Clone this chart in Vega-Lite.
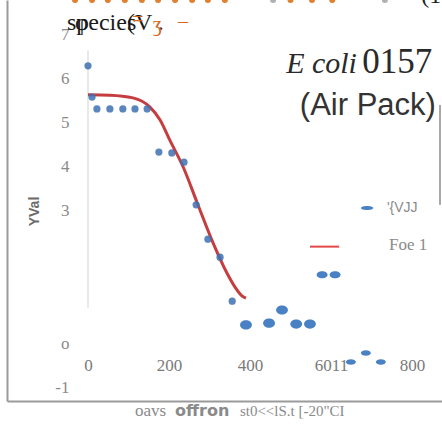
{
  "$schema": "https://vega.github.io/schema/vega-lite/v6.json",
  "width": 435,
  "height": 401,
  "autosize": "none",
  "padding": {"left": 7, "top": 0, "right": 0, "bottom": 26},
  "background": "white",
  "config": {"view": {"stroke": null}},
  "datasets": {
    "curve": [
      {"x": 0, "y": 5.64}, {"x": 54, "y": 5.63}, {"x": 111, "y": 5.57}, {"x": 153, "y": 5.36},
      {"x": 178, "y": 5.07}, {"x": 202, "y": 4.61}, {"x": 235, "y": 4.0}, {"x": 269, "y": 3.2},
      {"x": 309, "y": 2.27}, {"x": 343, "y": 1.59}, {"x": 363, "y": 1.27}, {"x": 380, "y": 1.07},
      {"x": 390, "y": 1.02}
    ],
    "obs": [
      {"x": 0, "y": 6.3}, {"x": 10, "y": 5.59}, {"x": 22, "y": 5.32}, {"x": 54, "y": 5.32},
      {"x": 86, "y": 5.32}, {"x": 116, "y": 5.32}, {"x": 146, "y": 5.32}, {"x": 175, "y": 4.34},
      {"x": 207, "y": 4.32}, {"x": 237, "y": 4.11}, {"x": 267, "y": 3.14}, {"x": 296, "y": 2.36},
      {"x": 326, "y": 1.95}, {"x": 356, "y": 0.95}
    ],
    "extra": [
      {"x": 390, "y": 0.41, "grp": "mid"}, {"x": 447, "y": 0.45, "grp": "mid"}, {"x": 479, "y": 0.75, "grp": "mid"},
      {"x": 514, "y": 0.43, "grp": "mid"}, {"x": 548, "y": 0.43, "grp": "mid"},
      {"x": 649, "y": -0.43, "grp": "low"}, {"x": 686, "y": -0.23, "grp": "low"}, {"x": 723, "y": -0.43, "grp": "low"}
    ],
    "topdots": [
      {"x": -32, "c": "o"}, {"x": 10, "c": "o"}, {"x": 49, "c": "o"}, {"x": 91, "c": "o"}, {"x": 133, "c": "o"},
      {"x": 173, "c": "o"}, {"x": 215, "c": "o"}, {"x": 257, "c": "o"}, {"x": 296, "c": "o"}, {"x": 338, "c": "o"},
      {"x": 457, "c": "g"}, {"x": 500, "c": "o"}, {"x": 553, "c": "o"}, {"x": 603, "c": "o"}, {"x": 733, "c": "g"}
    ]
  },
  "encoding": {
    "x": {
      "field": "x", "type": "quantitative",
      "scale": {"domain": [-200, 874], "nice": false, "zero": false},
      "axis": {
        "values": [0, 200, 400, 600, 800],
        "labelExpr": "datum.value == 600 ? '6011' : datum.label",
        "grid": false, "ticks": false,
        "domainColor": "#9a9a9a", "domainWidth": 2,
        "labelFont": "Liberation Serif", "labelFontSize": 17, "labelColor": "#7a7a7a",
        "labelPadding": -36, "labelBaseline": "middle", "labelFlush": false, "labelOverlap": false,
        "title": null
      }
    },
    "y": {
      "field": "y", "type": "quantitative",
      "scale": {"domain": [-1.318, 7.795], "nice": false, "zero": false},
      "axis": {
        "values": [7, 6, 5, 4, 3, 0, -1],
        "labelExpr": "datum.value == 0 ? 'o' : (datum.value == -1 ? '-1' : datum.label)",
        "grid": false, "ticks": false,
        "domainColor": "#9a9a9a", "domainWidth": 2,
        "labelFont": "Liberation Serif", "labelFontSize": 17, "labelColor": "#8a8a8a",
        "labelPadding": -62, "labelFlush": false, "labelOverlap": false,
        "title": "YVal",
        "titleFont": "Liberation Sans", "titleFontSize": 14, "titleFontWeight": "bold", "titleColor": "#6a6a6a",
        "titleAngle": 270, "titleX": 27, "titleY": 211, "titleAlign": "center", "titleBaseline": "middle"
      }
    }
  },
  "layer": [
    {
      "data": {"values": [{"x": 0, "y": 6.65, "y2": 0.8}]},
      "mark": {"type": "rule", "color": "#e2e2e2", "strokeWidth": 1.5},
      "encoding": {"y2": {"field": "y2"}}
    },
    {
      "data": {"name": "curve"},
      "mark": {"type": "line", "color": "#c63d3f", "strokeWidth": 3, "interpolate": "monotone"}
    },
    {
      "data": {"name": "obs"},
      "mark": {"type": "point", "filled": true, "shape": "circle", "size": 52, "color": "#3e70b2", "opacity": 0.85}
    },
    {
      "data": {"name": "extra"},
      "transform": [{"filter": "datum.grp == 'mid'"}],
      "mark": {"type": "point", "filled": true, "size": 140, "color": "#4a80c4", "opacity": 1,
               "shape": "M-1,0A1,0.78,0,1,1,1,0A1,0.78,0,1,1,-1,0Z"}
    },
    {
      "data": {"name": "extra"},
      "transform": [{"filter": "datum.grp == 'low'"}],
      "mark": {"type": "point", "filled": true, "size": 100, "color": "#4a80c4", "opacity": 1,
               "shape": "M-1,0A1,0.55,0,1,1,1,0A1,0.55,0,1,1,-1,0Z"}
    },
    {
      "data": {"name": "topdots"},
      "transform": [{"calculate": "7.795", "as": "y"}],
      "mark": {"type": "point", "filled": true, "shape": "circle", "size": 36, "opacity": 1},
      "encoding": {
        "color": {"field": "c", "type": "nominal", "scale": {"domain": ["o", "g"], "range": ["#e0802f", "#b0b0b0"]}, "legend": null}
      }
    },
    {
      "data": {"values": [{"x": 869, "y": 5.41, "y2": 3.14}]},
      "mark": {"type": "rule", "color": "#a8a8a8", "strokeWidth": 2},
      "encoding": {"y2": {"field": "y2"}}
    },
    {
      "data": {"values": [{"x": 689, "y": 3.07}]},
      "mark": {"type": "point", "filled": true, "size": 150, "color": "#4a80c4", "opacity": 1,
               "shape": "M-1,0A1,0.33,0,1,1,1,0A1,0.33,0,1,1,-1,0Z"}
    },
    {
      "data": {"values": [{"x": 548, "x2": 620, "y": 2.19}]},
      "mark": {"type": "rule", "color": "#e34848", "strokeWidth": 2},
      "encoding": {"x2": {"field": "x2"}}
    },
    {
      "data": {"values": [{"x": 578, "y": 1.55}, {"x": 610, "y": 1.55}]},
      "mark": {"type": "point", "filled": true, "size": 120, "color": "#4a80c4", "opacity": 1,
               "shape": "M-1,0A1,0.65,0,1,1,1,0A1,0.65,0,1,1,-1,0Z"}
    },
    {
      "data": {"values": [{"x": 738, "y": 3.07, "t": "'{VJJ"}]},
      "mark": {"type": "text", "align": "left", "baseline": "middle", "font": "Liberation Sans", "fontSize": 14, "color": "#8a8a8a"},
      "encoding": {"text": {"field": "t"}}
    },
    {
      "data": {"values": [{"x": 743, "y": 2.23, "t": "Foe  1"}]},
      "mark": {"type": "text", "align": "left", "baseline": "middle", "font": "Liberation Serif", "fontSize": 17, "color": "#8a8a8a"},
      "encoding": {"text": {"field": "t"}}
    },
    {
      "data": {"values": [{"x": 664, "y": 6.136, "t": "E coli"}]},
      "mark": {"type": "text", "align": "right", "baseline": "alphabetic", "font": "Liberation Serif", "fontStyle": "italic", "fontSize": 30, "color": "#2a2a2a"},
      "encoding": {"text": {"field": "t"}}
    },
    {
      "data": {"values": [{"x": 677, "y": 6.136, "t": "0157"}]},
      "mark": {"type": "text", "align": "left", "baseline": "alphabetic", "font": "Liberation Serif", "fontSize": 35, "color": "#2a2a2a"},
      "encoding": {"text": {"field": "t"}}
    },
    {
      "data": {"values": [{"x": 859, "y": 5.18, "t": "(Air Pack)"}]},
      "mark": {"type": "text", "align": "right", "baseline": "alphabetic", "font": "Liberation Sans", "fontSize": 31, "color": "#333333"},
      "encoding": {"text": {"field": "t"}}
    },
    {
      "data": {"values": [{"x": 823, "y": 7.73, "t": "(1"}]},
      "mark": {"type": "text", "align": "left", "baseline": "alphabetic", "font": "Liberation Serif", "fontSize": 24, "color": "#222222"},
      "encoding": {"text": {"field": "t"}}
    },
    {
      "data": {"values": [{"x": -52, "y": 7.114, "t": "specie(V ."}, {"x": -32, "y": 7.114, "t": "φ"}, {"x": 96, "y": 7.114, "t": "s"}]},
      "mark": {"type": "text", "align": "left", "baseline": "alphabetic", "font": "Liberation Serif", "fontSize": 24, "color": "#1a1a1a"},
      "encoding": {"text": {"field": "t"}}
    },
    {
      "data": {"values": [{"x": 109, "y": 7.2, "t": "="}, {"x": 160, "y": 7.1, "t": "ʒ"}, {"x": 222, "y": 7.16, "t": "–"}]},
      "mark": {"type": "text", "align": "left", "baseline": "alphabetic", "font": "Liberation Serif", "fontSize": 20, "color": "#d2691e"},
      "encoding": {"text": {"field": "t"}}
    },
    {
      "data": {"values": [{"x": 116, "y": -1.545, "t": "oavs"}]},
      "mark": {"type": "text", "align": "left", "baseline": "middle", "font": "Liberation Serif", "fontSize": 17, "color": "#8a8a8a"},
      "encoding": {"text": {"field": "t"}}
    },
    {
      "data": {"values": [{"x": 215, "y": -1.545, "t": "offron"}]},
      "mark": {"type": "text", "align": "left", "baseline": "middle", "font": "DejaVu Sans", "fontSize": 16, "fontWeight": "bold", "color": "#8a8a8a"},
      "encoding": {"text": {"field": "t"}}
    },
    {
      "data": {"values": [{"x": 375, "y": -1.545, "t": "st0<<lS.t [-20\"CI"}]},
      "mark": {"type": "text", "align": "left", "baseline": "middle", "font": "Liberation Serif", "fontSize": 15, "color": "#8a8a8a"},
      "encoding": {"text": {"field": "t"}}
    }
  ]
}
